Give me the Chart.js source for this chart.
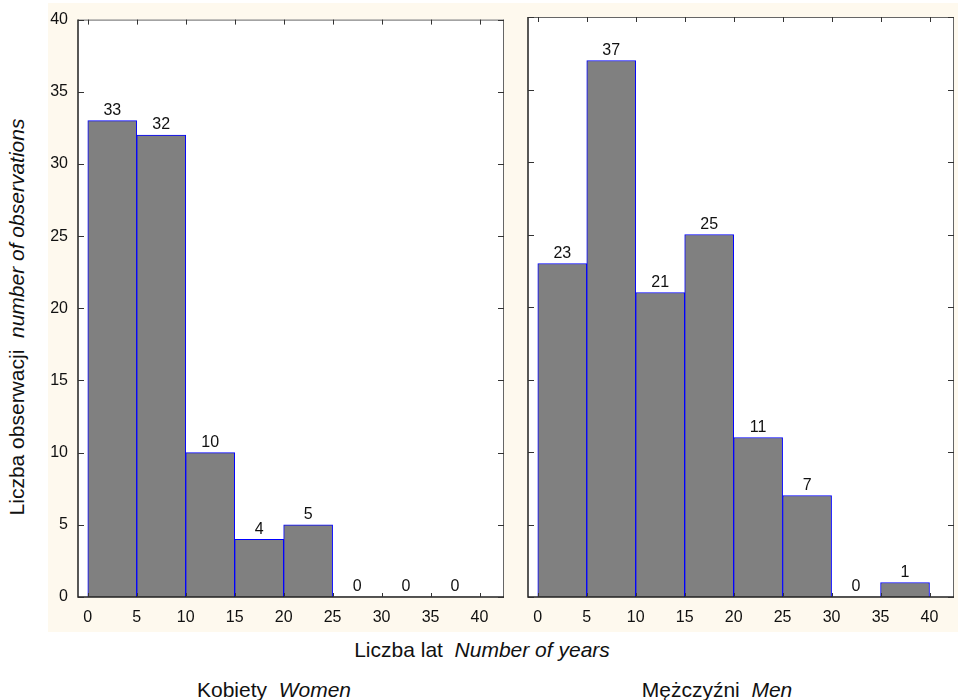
<!DOCTYPE html>
<html>
<head>
<meta charset="utf-8">
<script src="https://cdn.jsdelivr.net/npm/chart.js@4.4.0/dist/chart.umd.min.js"></script>
<style>
  body { margin: 0; background: #fff; font-family: "Liberation Sans", Arial, sans-serif; }
  #wrap { position: relative; width: 958px; height: 700px; overflow: hidden; }
  #cream { position: absolute; left: 48px; top: 3px; width: 910px; height: 629px; background: #fef9ee; }
  .panel { position: absolute; top: 0; }
  .txt { position: absolute; font-size: 21px; color: #111; white-space: nowrap; }
  .txt i { font-style: italic; }
</style>
</head>
<body>
<div id="wrap">
  <div id="cream"></div>
  <div class="panel" style="left:40px;width:478px;height:630px"><canvas id="women"></canvas></div>
  <div class="panel" style="left:518px;width:440px;height:630px"><canvas id="men"></canvas></div>
  <div class="txt" style="left:17px;top:317px;transform:translate(-50%,-50%) rotate(-90deg)">Liczba obserwacji&nbsp; <i>number of observations</i></div>
  <div class="txt" style="left:482px;top:650px;transform:translate(-50%,-50%)">Liczba lat&nbsp; <i>Number of years</i></div>
  <div class="txt" style="left:274px;top:690px;transform:translate(-50%,-50%)">Kobiety&nbsp; <i>Women</i></div>
  <div class="txt" style="left:717px;top:690px;transform:translate(-50%,-50%)">Mężczyźni&nbsp; <i>Men</i></div>
</div>
<script>
// bins (centres of 5-year classes) and counts
const binCentres = [2.5, 7.5, 12.5, 17.5, 22.5, 27.5, 32.5, 37.5];
const womenCounts = [33, 32, 10, 4, 5, 0, 0, 0];
const menCounts = [23, 37, 21, 25, 11, 7, 0, 1];
const xTicks = [0, 5, 10, 15, 20, 25, 30, 35, 40];
const yTicks = [0, 5, 10, 15, 20, 25, 30, 35, 40];

const FONT = '"Liberation Sans", Arial, sans-serif';

// white plot area
const plotBg = {
  id: 'plotBg',
  beforeDraw(chart) {
    const a = chart.chartArea, ctx = chart.ctx;
    ctx.save();
    ctx.fillStyle = '#ffffff';
    ctx.fillRect(a.left, a.top, a.right - a.left, a.bottom - a.top);
    ctx.restore();
  }
};

// frame + inner tick marks on all four sides
const frameTicks = {
  id: 'frameTicks',
  afterDraw(chart) {
    const a = chart.chartArea, ctx = chart.ctx;
    const xs = chart.scales.x, ys = chart.scales.y;
    ctx.save();
    ctx.strokeStyle = '#666';
    ctx.lineWidth = 1;
    ctx.beginPath();
    ctx.moveTo(a.left, a.top + 0.5); ctx.lineTo(a.right, a.top + 0.5);
    ctx.moveTo(a.right - 0.5, a.top); ctx.lineTo(a.right - 0.5, a.bottom);
    ctx.stroke();
    ctx.strokeStyle = '#222';
    ctx.lineWidth = 1.5;
    ctx.beginPath();
    ctx.moveTo(a.left, a.top); ctx.lineTo(a.left, a.bottom);
    ctx.lineTo(a.right, a.bottom);
    ctx.stroke();
    ctx.strokeStyle = '#333';
    ctx.lineWidth = 1;
    ctx.beginPath();
    xTicks.forEach(v => {
      const px = Math.round(xs.getPixelForValue(v)) + 0.5;
      ctx.moveTo(px, a.top); ctx.lineTo(px, a.top + 5);
      ctx.moveTo(px, a.bottom); ctx.lineTo(px, a.bottom - 4);
    });
    yTicks.forEach(v => {
      const py = Math.round(ys.getPixelForValue(v)) + 0.5;
      ctx.moveTo(a.left, py); ctx.lineTo(a.left + 6, py);
      ctx.moveTo(a.right, py); ctx.lineTo(a.right - 6, py);
    });
    ctx.stroke();
    ctx.restore();
  }
};

// counts above bars
const barLabels = {
  id: 'barLabels',
  afterDatasetsDraw(chart) {
    const ctx = chart.ctx;
    const meta = chart.getDatasetMeta(0);
    const data = chart.data.datasets[0].data;
    ctx.save();
    ctx.font = '16px ' + FONT;
    ctx.fillStyle = '#111';
    ctx.textAlign = 'center';
    ctx.textBaseline = 'bottom';
    meta.data.forEach((bar, i) => {
      ctx.fillText(String(data[i].y), bar.x, bar.y - 2);
    });
    ctx.restore();
  }
};

function makeHist(canvasId, counts, showY, padLeft, padRight) {
  const ctx = document.getElementById(canvasId).getContext('2d');
  return new Chart(ctx, {
    type: 'bar',
    data: {
      datasets: [{
        data: binCentres.map((c, i) => ({ x: c, y: counts[i] })),
        backgroundColor: '#808080',
        borderColor: '#0000ff',
        borderWidth: c => (c.raw && c.raw.y === 0 ? 0 : 1),
        borderSkipped: 'bottom',
        barPercentage: 1,
        categoryPercentage: 1,
        grouped: false
      }]
    },
    options: {
      responsive: true,
      maintainAspectRatio: false,
      animation: false,
      layout: { padding: { top: 17, right: padRight, bottom: 0, left: padLeft } },
      plugins: { legend: { display: false }, tooltip: { enabled: false } },
      scales: {
        x: {
          type: 'linear',
          min: -1,
          max: 42.5,
          offset: false,
          grid: { display: false, drawTicks: false },
          border: { display: false },
          afterBuildTicks: s => { s.ticks = xTicks.map(v => ({ value: v })); },
          afterFit: s => { s.height = 33; },
          ticks: { padding: 11, color: '#111', font: { family: FONT, size: 16 }, maxRotation: 0, autoSkip: false }
        },
        y: {
          display: showY,
          min: 0,
          max: 40,
          grid: { display: false, drawTicks: false },
          border: { display: false },
          afterBuildTicks: s => { s.ticks = yTicks.map(v => ({ value: v })); },
          afterFit: s => { s.width = showY ? 38 : 0; },
          ticks: { padding: 10, color: '#111', font: { family: FONT, size: 16 } }
        }
      }
    },
    plugins: [plotBg, barLabels, frameTicks]
  });
}

makeHist('women', womenCounts, true, 0, 14);
makeHist('men', menCounts, false, 10, 4);
</script>
</body>
</html>
